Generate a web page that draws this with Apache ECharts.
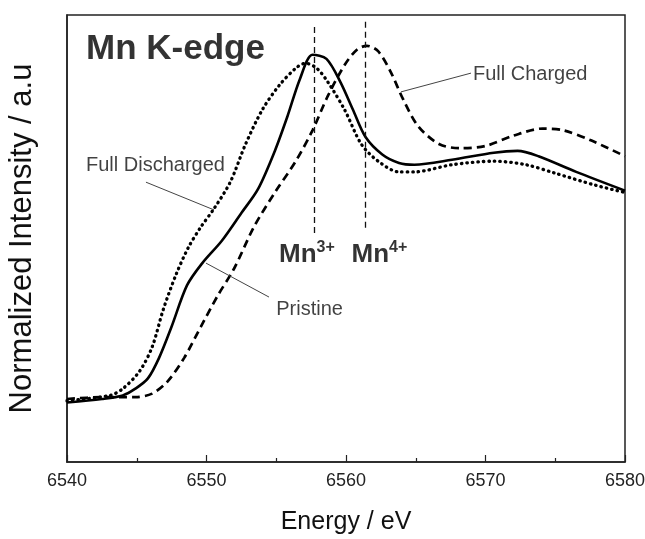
<!DOCTYPE html>
<html>
<head>
<meta charset="utf-8">
<script src="https://cdn.jsdelivr.net/npm/echarts@6/dist/echarts.min.js"></script>
<style>
  html, body { margin: 0; padding: 0; background: #fff; }
  #main { width: 645px; height: 539px; }
</style>
</head>
<body>
<div id="main"></div>
<script>
// Mn K-edge XANES, normalized intensity (arbitrary units, 0..1 of the frame)
var pristine = [
  [6540, 0.133], [6542.5, 0.141], [6544, 0.149], [6544.9, 0.164], [6545.8, 0.187],
  [6546.6, 0.233], [6547.5, 0.303], [6548.6, 0.395], [6549.7, 0.445], [6551.1, 0.495],
  [6552.5, 0.557], [6553.7, 0.611], [6554.9, 0.696], [6555.8, 0.773], [6556.7, 0.857],
  [6557.6, 0.911], [6558.6, 0.902], [6559.6, 0.850], [6560.5, 0.788], [6561.4, 0.727],
  [6562.6, 0.688], [6563.8, 0.669], [6564.9, 0.665], [6567.6, 0.676], [6570.6, 0.692],
  [6572.3, 0.696], [6573.8, 0.684], [6576.5, 0.649], [6580, 0.607]
];
var discharged = [
  [6540, 0.137], [6543.1, 0.149], [6544, 0.164], [6545.2, 0.203], [6546.1, 0.257],
  [6546.9, 0.341], [6547.8, 0.418], [6548.7, 0.480], [6549.6, 0.526], [6550.5, 0.565],
  [6551.7, 0.626], [6552.8, 0.711], [6554.0, 0.788], [6555.2, 0.842], [6556.4, 0.881],
  [6557.1, 0.892], [6557.9, 0.881], [6558.7, 0.850], [6559.9, 0.788], [6561.1, 0.711],
  [6562.3, 0.673], [6563.8, 0.649], [6564.9, 0.649], [6567.6, 0.665], [6570.6, 0.673],
  [6572.9, 0.665], [6575.0, 0.646], [6577.9, 0.619], [6580, 0.603]
];
var charged = [
  [6540, 0.141], [6542.5, 0.145], [6544.9, 0.145], [6546.1, 0.153], [6547.2, 0.180],
  [6548.4, 0.233], [6549.6, 0.303], [6550.8, 0.372], [6552.0, 0.434], [6553.4, 0.526],
  [6554.9, 0.603], [6556.4, 0.673], [6557.6, 0.742], [6558.7, 0.819], [6559.9, 0.888],
  [6560.8, 0.923], [6561.5, 0.931], [6562.3, 0.919], [6563.2, 0.873], [6564.1, 0.811],
  [6565.2, 0.750], [6566.7, 0.711], [6568.2, 0.702], [6570.0, 0.707], [6572.0, 0.730],
  [6574.1, 0.746], [6575.6, 0.742], [6577.6, 0.719], [6580, 0.684]
];

// reference energies (Mn3+, Mn4+) and their line spans
var refLines = [
  [6557.7, 0.973, 0.512],
  [6561.4, 0.985, 0.516]
];

// text notes: [E, value, text]
var notes = [
  [6541.36, 0.924, '{t|Mn K-edge}'],
  [6569.1, 0.866, '{n|Full Charged}'],
  [6541.36, 0.664, '{n|Full Discharged}'],
  [6555.0, 0.342, '{n|Pristine}'],
  [6555.2, 0.463, '{m|Mn}{s|3+}'],
  [6560.4, 0.463, '{m|Mn}{s|4+}']
];

// leader lines from curve to label
var leaders = [
  [[6563.94, 0.828], [6568.96, 0.870]],
  [[6545.66, 0.626], [6550.54, 0.564]],
  [[6549.96, 0.445], [6554.48, 0.369]]
];

var FONT = '"Liberation Sans", Arial, sans-serif';
var chart = echarts.init(document.getElementById('main'));

var refData = refLines.map(function (r) {
  return [{ coord: [r[0], r[1]] }, { coord: [r[0], r[2]] }];
});
var leaderData = leaders.map(function (l) {
  return [{ coord: l[0] }, { coord: l[1] }];
});

var option = {
  animation: false,
  backgroundColor: '#fff',
  grid: {
    left: 67, right: 20, top: 15, bottom: 77,
    outerBoundsMode: 'none',
    show: true, borderColor: '#222', borderWidth: 1.5
  },
  xAxis: {
    type: 'value',
    min: 6540, max: 6580, interval: 10,
    name: 'Energy / eV',
    nameLocation: 'middle',
    nameGap: 48,
    nameTextStyle: { fontFamily: FONT, fontSize: 25, color: '#111' },
    axisLine: { show: true, lineStyle: { color: '#222', width: 1.5 } },
    axisTick: { show: true, inside: true, length: 7, lineStyle: { color: '#222', width: 1.2 } },
    minorTick: { show: true, splitNumber: 2, length: 4, lineStyle: { color: '#222', width: 1.2 } },
    axisLabel: {
      fontFamily: FONT, fontSize: 18, color: '#222', margin: 10,
      formatter: function (v) { return String(v); }
    },
    splitLine: { show: false }
  },
  yAxis: {
    type: 'value',
    min: 0, max: 1,
    name: 'Normalized Intensity / a.u',
    nameLocation: 'middle',
    nameGap: 29,
    nameTextStyle: { fontFamily: FONT, fontSize: 31, color: '#111' },
    axisLine: { show: true, lineStyle: { color: '#222', width: 1.5 } },
    axisTick: { show: false },
    axisLabel: { show: false },
    splitLine: { show: false }
  },
  series: [
    {
      name: 'Pristine', type: 'line', data: pristine, smooth: 0.3,
      showSymbol: false,
      lineStyle: { color: '#000', width: 2.6, type: 'solid' }
    },
    {
      name: 'Full Discharged', type: 'line', data: discharged, smooth: 0.3,
      showSymbol: false,
      lineStyle: { color: '#000', width: 3.3, type: [0.5, 5], cap: 'round' }
    },
    {
      name: 'Full Charged', type: 'line', data: charged, smooth: 0.3,
      showSymbol: false,
      lineStyle: { color: '#000', width: 2.7, type: [8, 5] },
      markLine: {
        silent: true, symbol: 'none', label: { show: false },
        lineStyle: { color: '#111', width: 1.3, type: [6, 4] },
        data: refData
      }
    },
    {
      name: 'leaders', type: 'line', data: [], showSymbol: false,
      markLine: {
        silent: true, symbol: 'none', label: { show: false },
        lineStyle: { color: '#444', width: 1, type: 'solid' },
        data: leaderData
      }
    },
    {
      name: 'notes', type: 'scatter', symbolSize: 0, silent: true,
      data: notes,
      label: {
        show: true, position: 'right', distance: 0, color: '#000',
        formatter: function (p) { return p.data[2]; },
        rich: {
          t: { fontFamily: FONT, fontSize: 35, fontWeight: 'bold', color: '#000' },
          n: { fontFamily: FONT, fontSize: 20, color: '#111' },
          m: { fontFamily: FONT, fontSize: 26, fontWeight: 'bold', color: '#000', lineHeight: 30 },
          s: { fontFamily: FONT, fontSize: 16, fontWeight: 'bold', color: '#000', verticalAlign: 'top', lineHeight: 30, padding: [0, 0, 12, 0] }
        }
      }
    }
  ]
};

chart.setOption(option);
</script>
</body>
</html>
